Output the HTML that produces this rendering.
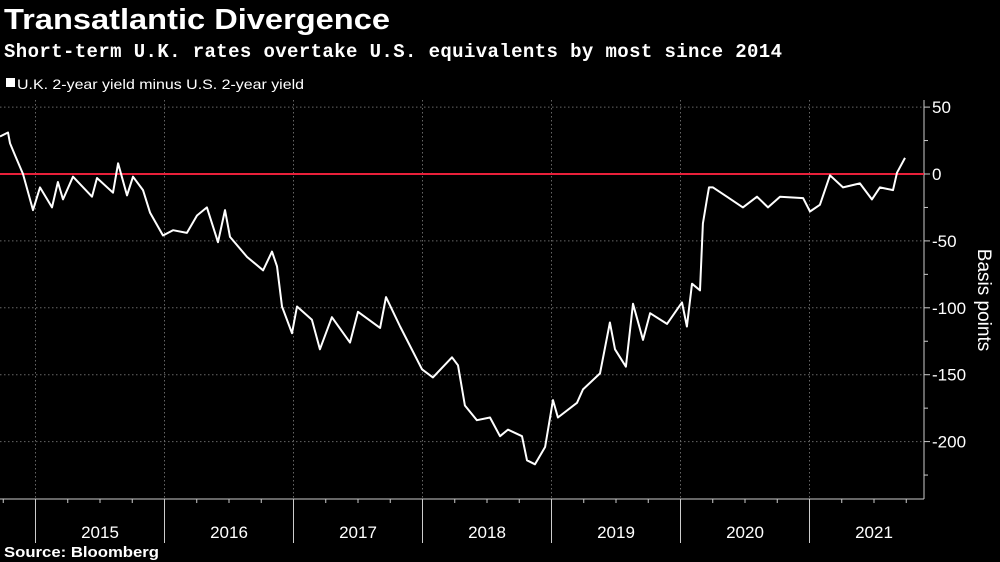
<!DOCTYPE html>
<html><head><meta charset="utf-8"><style>
html,body{margin:0;padding:0;background:#000;width:1000px;height:562px;overflow:hidden;font-family:"Liberation Sans",sans-serif;color:#fff}
</style></head><body>
<svg width="1000" height="562" viewBox="0 0 1000 562">
<text x="4" y="29" font-size="29" font-weight="bold" fill="#fff" textLength="386" lengthAdjust="spacingAndGlyphs">Transatlantic Divergence</text>
<text x="4" y="57" font-size="19" font-weight="bold" fill="#fff" font-family="Liberation Mono, monospace" textLength="778">Short-term U.K. rates overtake U.S. equivalents by most since 2014</text>
<rect x="6" y="78" width="9" height="9" fill="#fff"/>
<text x="17" y="89" font-size="14" fill="#fff" textLength="287" lengthAdjust="spacingAndGlyphs">U.K. 2-year yield minus U.S. 2-year yield</text>
<g id="grid"></g>
<g id="axes"></g>
<line x1="0" y1="174" x2="924" y2="174" stroke="#e8203a" stroke-width="2"/>
<polyline id="series" fill="none" stroke="#fff" stroke-width="2" stroke-linejoin="round"/>
<text transform="translate(978,300) rotate(90)" text-anchor="middle" font-size="19" fill="#fff">Basis points</text>
<text x="4" y="557" font-size="15" font-weight="bold" fill="#fff" textLength="155" lengthAdjust="spacingAndGlyphs">Source: Bloomberg</text>
</svg>
<script>
const dates=[2014.725,2014.787,2014.802,2014.841,2014.903,2014.981,2015.035,2015.128,2015.174,2015.213,2015.291,2015.438,2015.477,2015.601,2015.640,2015.709,2015.756,2015.833,2015.888,2015.988,2016.066,2016.174,2016.252,2016.329,2016.415,2016.469,2016.508,2016.640,2016.764,2016.833,2016.872,2016.911,2016.988,2017.027,2017.143,2017.205,2017.298,2017.438,2017.500,2017.671,2017.717,2017.826,2017.996,2018.081,2018.229,2018.275,2018.329,2018.422,2018.523,2018.601,2018.663,2018.771,2018.810,2018.872,2018.950,2019.012,2019.050,2019.198,2019.244,2019.376,2019.453,2019.492,2019.577,2019.632,2019.709,2019.764,2019.895,2020.012,2020.050,2020.089,2020.151,2020.174,2020.205,2020.221,2020.252,2020.360,2020.484,2020.593,2020.678,2020.771,2020.950,2021.004,2021.081,2021.159,2021.260,2021.391,2021.484,2021.546,2021.647,2021.678,2021.740];
const values=[28,31,23,14,0,-27,-10,-25,-6,-19,-2,-17,-3,-14,8,-16,-2,-12,-29,-46,-42,-44,-31,-25,-51,-27,-47,-62,-72,-58,-69,-99,-119,-99,-109,-131,-107,-126,-103,-115,-92,-114,-146,-152,-137,-143,-173,-184,-182,-196,-191,-196,-214,-217,-204,-169,-182,-171,-161,-149,-111,-131,-144,-97,-124,-104,-112,-96,-114,-82,-87,-37,-19,-10,-10,-17,-25,-17,-25,-17,-18,-28,-23,-1,-10,-7,-19,-10,-12,1,12];
const yTicks=[50,0,-50,-100,-150,-200];
const yMinor=[25,-25,-75,-125,-175,-225];
const years=[2015,2016,2017,2018,2019,2020,2021];
const xS=yr=>35.5+(yr-2015)*129;
const yS=v=>174-v*1.338;
const NS='http://www.w3.org/2000/svg';
function mk(t,a,p){const e=document.createElementNS(NS,t);for(const k in a)e.setAttribute(k,a[k]);p.appendChild(e);return e;}
const grid=document.getElementById('grid'),axes=document.getElementById('axes');
yTicks.forEach(v=>{if(v===0)return;
 const l=mk('line',{x1:0,x2:924,y1:yS(v),y2:yS(v),stroke:'#666','stroke-dasharray':'1.5,2.5','stroke-width':1},grid);
 
 });
yTicks.forEach(v=>{
 const t=mk('line',{x1:924,x2:930,y1:yS(v),y2:yS(v),stroke:'#ccc'},axes);
 
 
 const s=mk('text',{x:932,y:yS(v)+6,'font-size':17,fill:'#fff'},axes);
 s.textContent=v<0?'-'+Math.abs(v):String(v);
 
 });
yMinor.forEach(v=>{
 const t=mk('line',{x1:924,x2:928,y1:yS(v),y2:yS(v),stroke:'#ccc'},axes);
 
 });
const ya=mk('line',{x1:924,x2:924,y1:100,y2:499,stroke:'#ccc'},axes);


const xa=mk('line',{x1:0,x2:924,y1:499,y2:499,stroke:'#ccc'},axes);


years.forEach(y=>{
 const g=mk('line',{x1:xS(y),x2:xS(y),y1:100,y2:499,stroke:'#666','stroke-dasharray':'1.5,2.5'},grid);
 
 
 const t=mk('line',{x1:xS(y),x2:xS(y),y1:499,y2:543,stroke:'#ccc'},axes);
 
 
 const s=mk('text',{x:xS(y)+64.5,y:538,'font-size':17,fill:'#fff','text-anchor':'middle'},axes);
 s.textContent=String(y);
 
 });
for(let q=2014.75;q<2022;q+=0.25){if(Math.abs(q-Math.round(q))<0.01)continue;
 const t=mk('line',{x1:xS(q),x2:xS(q),y1:499,y2:503,stroke:'#ccc'},axes);
 
 }
document.getElementById('series').setAttribute('points',dates.map((d,i)=>xS(d).toFixed(1)+','+yS(values[i]).toFixed(1)).join(' '));
</script>
</body></html>
